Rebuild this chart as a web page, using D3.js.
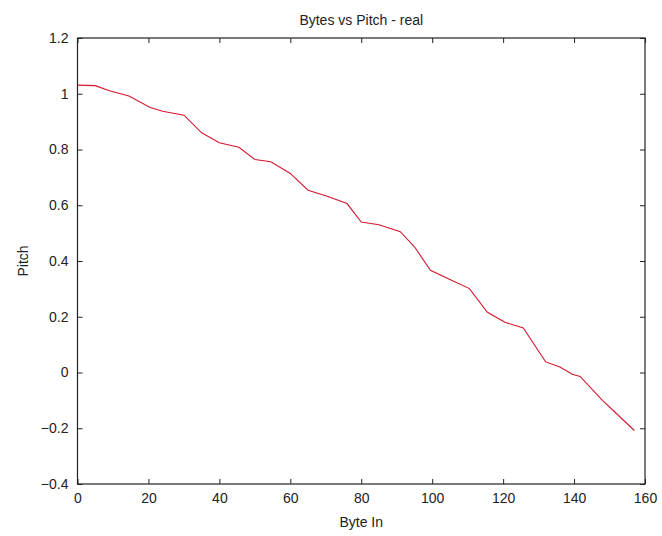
<!DOCTYPE html>
<html>
<head>
<meta charset="utf-8">
<script src="https://cdn.jsdelivr.net/npm/d3@7"></script>
<style>
  html, body { margin: 0; padding: 0; background: #fff; }
  svg { display: block; font-family: "Liberation Sans", Arial, sans-serif; }
</style>
</head>
<body>
<div id="chart"></div>
<script>
// Byte index and measured pitch for the "real" run
const byteIn = [0, 5, 9, 14.5, 20.5, 24, 30, 35, 40, 45.5, 50, 54.5, 60, 65, 70, 76, 80, 85, 91, 95,
  99.5, 105, 110.5, 115.5, 120.5, 125.7, 129.5, 132, 136, 139.5, 141.7, 148, 152, 157];
const pitch = [1.031, 1.029, 1.011, 0.992, 0.951, 0.937, 0.923, 0.860, 0.824, 0.808, 0.764, 0.756,
  0.714, 0.654, 0.634, 0.606, 0.540, 0.530, 0.505, 0.451, 0.367, 0.334, 0.301, 0.217, 0.180, 0.160,
  0.086, 0.038, 0.020, -0.006, -0.014, -0.100, -0.148, -0.208];
const xTicks = [0, 20, 40, 60, 80, 100, 120, 140, 160];
const yTicks = [-0.4, -0.2, 0, 0.2, 0.4, 0.6, 0.8, 1, 1.2];

const W = 662, H = 536;
const m = { left: 77.5, right: 17, top: 38, bottom: 52 };
const iw = W - m.left - m.right, ih = H - m.top - m.bottom;

const svg = d3.select("#chart").append("svg").attr("width", W).attr("height", H);
const g = svg.append("g").attr("transform", `translate(${m.left},${m.top})`);

const x = d3.scaleLinear().domain([0, 160]).range([0, iw]);
const y = d3.scaleLinear().domain([-0.4, 1.2]).range([ih, 0]);

const fmt = d => d3.format("")(+d.toFixed(1));

function styleAxis(sel, showText) {
  sel.select(".domain").remove();
  sel.selectAll(".tick line").attr("stroke", "#222").attr("stroke-width", 1);
  sel.selectAll(".tick text").attr("fill", "#222").style("font-size", "14px")
    .style("display", showText ? null : "none");
}

g.append("g").attr("transform", `translate(0,${ih})`)
  .call(d3.axisBottom(x).tickValues(xTicks).tickSizeInner(-5).tickSizeOuter(0).tickPadding(9).tickFormat(fmt))
  .call(s => styleAxis(s, true));
g.append("g")
  .call(d3.axisTop(x).tickValues(xTicks).tickSizeInner(-5).tickSizeOuter(0).tickFormat(fmt))
  .call(s => styleAxis(s, false));
g.append("g")
  .call(d3.axisLeft(y).tickValues(yTicks).tickSizeInner(-5).tickSizeOuter(0).tickPadding(9).tickFormat(fmt))
  .call(s => styleAxis(s, true));
g.append("g").attr("transform", `translate(${iw},0)`)
  .call(d3.axisRight(y).tickValues(yTicks).tickSizeInner(-5).tickSizeOuter(0).tickFormat(fmt))
  .call(s => styleAxis(s, false));

// Box around the plot area
g.append("rect").attr("width", iw).attr("height", ih)
  .attr("fill", "none").attr("stroke", "#222").attr("stroke-width", 1.2);

// Pitch trace
const line = d3.line().x((d, i) => x(byteIn[i])).y(d => y(d));
g.append("path").datum(pitch).attr("d", line)
  .attr("fill", "none").attr("stroke", "#d4182e").attr("stroke-width", 1.1);

svg.append("text").attr("x", m.left + iw / 2).attr("y", 25).attr("text-anchor", "middle")
  .style("font-size", "14px").attr("fill", "#222").text("Bytes vs Pitch - real");
svg.append("text").attr("x", m.left + iw / 2).attr("y", 527).attr("text-anchor", "middle")
  .style("font-size", "14px").attr("fill", "#222").text("Byte In");
svg.append("text").attr("transform", `translate(28,${m.top + ih / 2}) rotate(-90)`)
  .attr("text-anchor", "middle").style("font-size", "14px").attr("fill", "#222").text("Pitch");
</script>
</body>
</html>
